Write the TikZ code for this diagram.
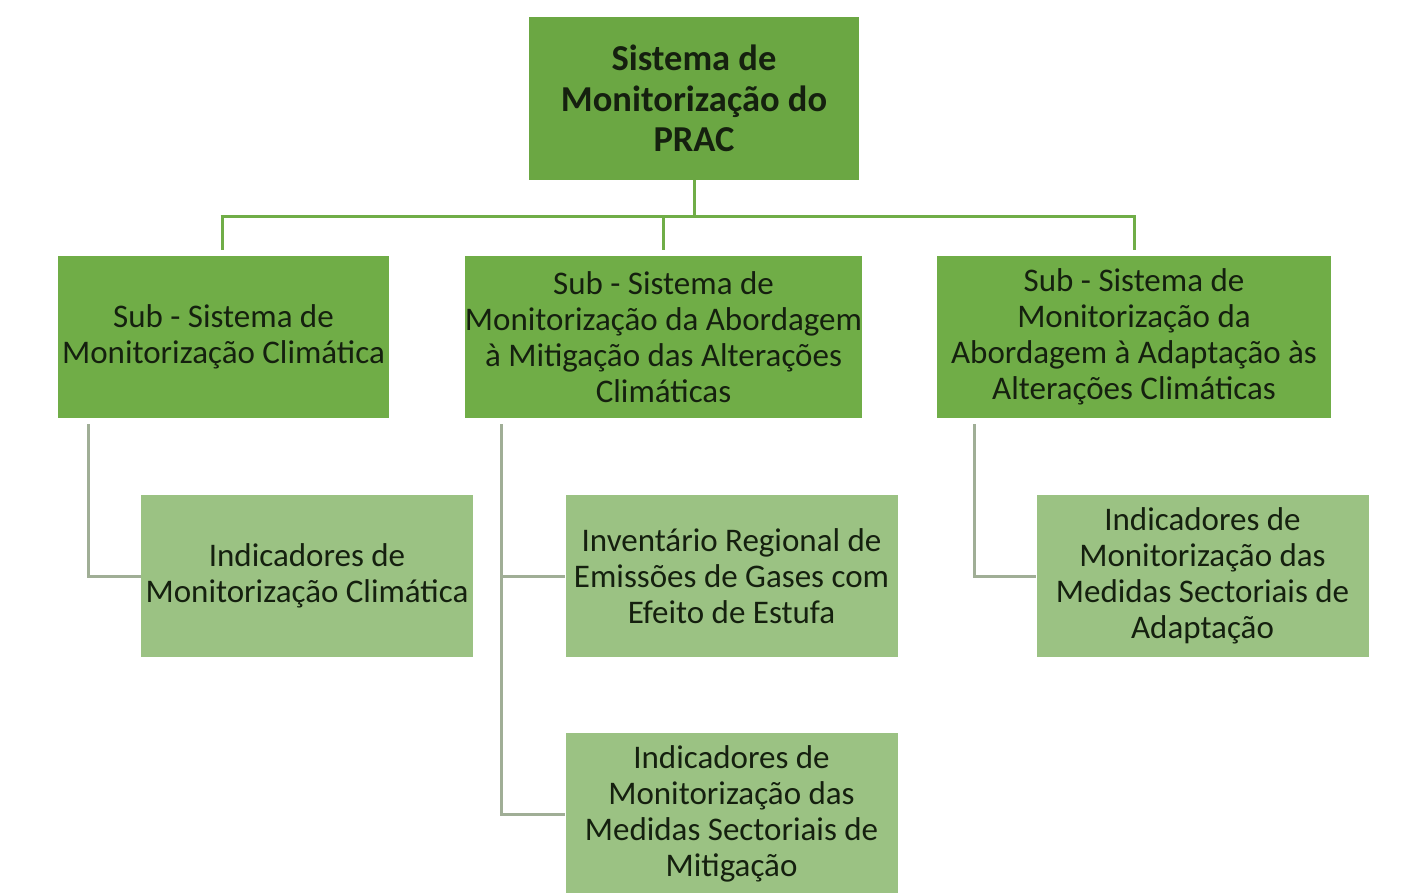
\documentclass[tikz,border=0pt]{standalone}
\usepackage{fontspec}
\setmainfont{Carlito}
\definecolor{topfill}{HTML}{6BA743}
\definecolor{subfill}{HTML}{70AD47}
\definecolor{leaffill}{HTML}{9BC283}
\definecolor{busline}{HTML}{70AD47}
\definecolor{sideline}{HTML}{A0AE96}
\definecolor{txt}{HTML}{15200F}
\begin{document}
\begin{tikzpicture}[x=1pt,y=-1pt,
  box/.style={rectangle, draw=none, align=center, inner sep=0pt, text=txt},
  topbox/.style={box, fill=topfill, minimum width=330pt, minimum height=163pt, font=\fontsize{36.5}{40.5}\selectfont\bfseries},
  subbox/.style={box, fill=subfill, minimum height=162pt, font=\fontsize{33}{36}\selectfont},
  leafbox/.style={box, fill=leaffill, minimum width=332pt, minimum height=162pt, font=\fontsize{33}{36}\selectfont},
  bus/.style={draw=busline, line width=3pt},
  side/.style={draw=sideline, line width=3pt}]
\useasboundingbox (0,0) rectangle (1404,892);
\node[topbox] (top) at (694,98.5) {Sistema de\\Monitorização do\\PRAC};
\node[subbox, minimum width=331pt] (s1) at (223.5,337) {Sub - Sistema de\\Monitorização Climática};
\node[subbox, minimum width=397pt] (s2) at (663.5,337) {Sub - Sistema de\\Monitorização da Abordagem\\à Mitigação das Alterações\\Climáticas};
\node[subbox, minimum width=394pt] (s3) at (1134,337) {Sub - Sistema de\\Monitorização da\\Abordagem à Adaptação às\\Alterações Climáticas};
\node[leafbox] (l1) at (307,576) {Indicadores de\\Monitorização Climática};
\node[leafbox] (l2) at (731.5,576) {Inventário Regional de\\Emissões de Gases com\\Efeito de Estufa};
\node[leafbox] (l3) at (731.5,814) {Indicadores de\\Monitorização das\\Medidas Sectoriais de\\Mitigação};
\node[leafbox] (l4) at (1202.5,576) {Indicadores de\\Monitorização das\\Medidas Sectoriais de\\Adaptação};
\coordinate (busL) at (222,216);
\coordinate (busR) at (1134,216);
\draw[bus] (top.south) -- (top.south |- busL);
\draw[bus] ([xshift=-1.5pt]busL) -- ([xshift=1.5pt]busR);
\draw[bus] (busL) -- ([yshift=6pt]busL |- s1.north);
\draw[bus] (s2.north |- busL) -- ([yshift=6pt]s2.north);
\draw[bus] (busR) -- ([yshift=6pt]s3.north);
\draw[side] ([xshift=31pt,yshift=-6pt]s1.south west) |- (l1.west);
\draw[side] ([xshift=37pt,yshift=-6pt]s2.south west) |- (l3.west);
\draw[side] ([xshift=37pt]s2.south west |- l2.west) -- (l2.west);
\draw[side] ([xshift=38pt,yshift=-6pt]s3.south west) |- (l4.west);
\end{tikzpicture}
\end{document}
